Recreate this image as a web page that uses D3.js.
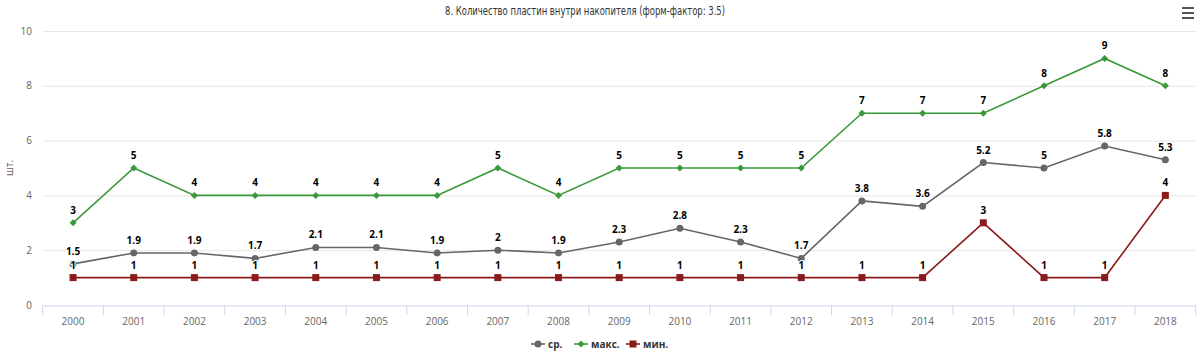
<!DOCTYPE html>
<html><head><meta charset="utf-8">
<script src="https://cdn.jsdelivr.net/npm/d3@7"></script>
<style>body{margin:0;background:#fff;}svg{display:block;font-family:"Open Sans","DejaVu Sans",sans-serif;}</style>
</head><body><svg id="c" width="1200" height="355"></svg>
<script>
const years = ["2000","2001","2002","2003","2004","2005","2006","2007","2008","2009","2010","2011","2012","2013","2014","2015","2016","2017","2018"];
const avgValues = [1.5,1.9,1.9,1.7,2.1,2.1,1.9,2,1.9,2.3,2.8,2.3,1.7,3.8,3.6,5.2,5,5.8,5.3];
const maxValues = [3,5,4,4,4,4,4,5,4,5,5,5,5,7,7,7,8,9,8];
const minValues = [1,1,1,1,1,1,1,1,1,1,1,1,1,1,1,3,1,1,4];
const yTicks = [0,2,4,6,8,10];
const seriesNames = ["ср.","макс.","мин."];

const svg = d3.select("#c");
const L = 42.7, R = 1195.7, T = 31, B = 305;
const x = d3.scaleBand().domain(years).range([L, R]);
const y = d3.scaleLinear().domain([0,10]).range([B, T]);

// title
svg.append("text").attr("x",445).attr("y",15).attr("text-anchor","start")
  .attr("textLength",280).attr("lengthAdjust","spacingAndGlyphs")
  .style("font-family","'DejaVu Sans Condensed','Roboto',sans-serif")
  .style("font-size","13px").attr("fill","#333")
  .text("8. Количество пластин внутри накопителя (форм-фактор: 3.5)");

// menu icon
[0,5,10].forEach(d=>svg.append("rect").attr("x",1182).attr("y",7+d).attr("width",12).attr("height",2).attr("fill","#555"));

// grid
svg.append("g").selectAll("line").data(yTicks.filter(d=>d>0)).join("line")
  .attr("x1",L).attr("x2",R).attr("y1",d=>y(d)+0.5).attr("y2",d=>y(d)+0.5)
  .attr("stroke","#e6e6e6");

// y labels
svg.append("g").selectAll("text").data(yTicks).join("text")
  .attr("x",32).attr("y",d=>y(d)+3.5).attr("text-anchor","end")
  .style("font-size","10px").attr("fill","#666").text(d=>d);

svg.append("text").attr("transform",`translate(13,${(T+B)/2}) rotate(-90)`).attr("text-anchor","middle")
  .style("font-size","10px").attr("fill","#666").text("шт.");

// x axis
const xa = svg.append("g").attr("transform",`translate(0,${B+0.5})`)
  .call(d3.axisBottom(x).tickSize(0).tickPadding(12));
xa.select(".domain").attr("stroke","#ccd6eb");
xa.selectAll("text").style("font-size","10px").attr("fill","#666").style("font-family","'Open Sans',sans-serif");
svg.append("g").selectAll("line").data(years.concat(["end"])).join("line")
  .attr("x1",(d,i)=>L+i*x.step()).attr("x2",(d,i)=>L+i*x.step())
  .attr("y1",B).attr("y2",B+10).attr("stroke","#ccd6eb");

const series = [
  {name:seriesNames[0], values:avgValues, color:"#666666", marker:"circle"},
  {name:seriesNames[1], values:maxValues, color:"#3a9a3a", marker:"diamond"},
  {name:seriesNames[2], values:minValues, color:"#8b1a1a", marker:"square"}
];
const cx = d => x(d) + x.bandwidth()/2;
const line = d3.line().x((v,i)=>cx(years[i])).y(v=>y(v));

function marker(g, type, color, px, py){
  if(type==="circle") g.append("circle").attr("cx",px).attr("cy",py).attr("r",3.5).attr("fill",color);
  else if(type==="diamond") g.append("path").attr("d",`M${px},${py-3.5}L${px+3.5},${py}L${px},${py+3.5}L${px-3.5},${py}Z`).attr("fill",color);
  else g.append("rect").attr("x",px-3.5).attr("y",py-3.5).attr("width",7).attr("height",7).attr("fill",color);
}

series.forEach(s=>{
  const g = svg.append("g");
  g.append("path").datum(s.values).attr("d",line).attr("fill","none").attr("stroke",s.color).attr("stroke-width",1.6);
  s.values.forEach((v,i)=>marker(g,s.marker,s.color,cx(years[i]),y(v)));
});
series.forEach(s=>{
  svg.append("g").selectAll("text").data(s.values).join("text")
    .attr("x",(v,i)=>cx(years[i])).attr("y",v=>y(v)-9).attr("text-anchor","middle")
    .style("font-size","10px").style("font-weight","bold").attr("fill","#000")
    .attr("stroke","#fff").attr("stroke-width",2).attr("paint-order","stroke")
    .text(v=>v);
});

// legend
const lg = svg.append("g");
const lx = [538,581,633];
series.forEach((s,i)=>{
  const g = lg.append("g");
  g.append("line").attr("x1",lx[i]-7).attr("x2",lx[i]+7).attr("y1",344).attr("y2",344).attr("stroke",s.color).attr("stroke-width",1.6);
  marker(g,s.marker,s.color,lx[i],344);
  g.append("text").attr("x",lx[i]+10).attr("y",347.5).style("font-size","10px").style("font-weight","bold").attr("fill","#333").text(s.name);
});
</script></body></html>
